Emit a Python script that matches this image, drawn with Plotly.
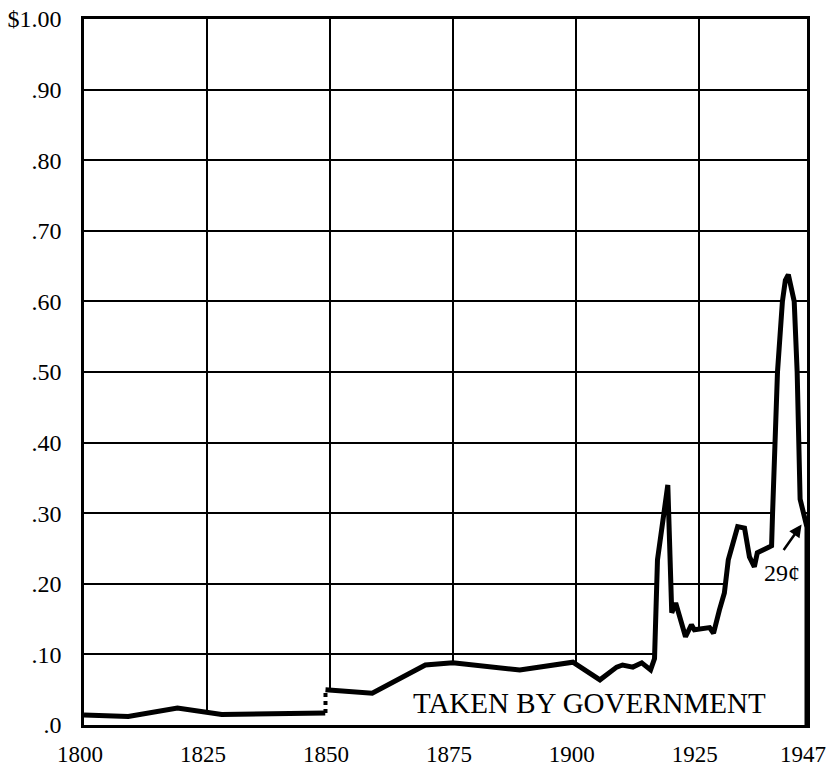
import plotly.graph_objects as go

# Share of the dollar taken by government
years_early = [1800, 1809, 1819, 1825, 1828, 1849.1]
share_early = [0.014, 0.012, 0.024, 0.018, 0.015, 0.017]

years_late = [1849.1, 1858.6, 1869.4, 1875, 1888.6, 1899.4, 1904.9, 1908.3, 1909.5,
              1911.6, 1913.4, 1915.2, 1916.0, 1916.6, 1918.7, 1919.5, 1920.3, 1922.3,
              1923.5, 1924.1, 1927.2, 1928.0, 1929.2, 1930.2, 1931.0, 1932.9, 1934.3,
              1935.3, 1936.3, 1936.9, 1939.3, 1939.8, 1940.0, 1940.6, 1941.0, 1942.0,
              1942.6, 1943.2, 1944.4, 1945.0, 1945.4, 1945.6, 1947.0, 1947.0]
share_late = [0.050, 0.045, 0.085, 0.088, 0.078, 0.089, 0.064, 0.082, 0.085,
              0.082, 0.088, 0.078, 0.094, 0.234, 0.340, 0.159, 0.173, 0.125,
              0.142, 0.135, 0.138, 0.130, 0.163, 0.187, 0.234, 0.281, 0.279,
              0.238, 0.224, 0.244, 0.252, 0.254, 0.300, 0.400, 0.500, 0.600,
              0.630, 0.638, 0.600, 0.500, 0.400, 0.320, 0.280, 0.0]

x_tick_vals = [1800, 1825, 1850, 1875, 1900, 1925, 1947]
x_tick_text = ["1800", "1825", "1850", "1875", "1900", "1925", "1947"]
y_tick_vals = [0, 0.1, 0.2, 0.3, 0.4, 0.5, 0.6, 0.7, 0.8, 0.9, 1.0]
y_tick_text = [".0", ".10", ".20", ".30", ".40", ".50", ".60", ".70", ".80", ".90", "$1.00"]

label_text = "TAKEN BY GOVERNMENT"
final_note = "29¢"

FONT = "Liberation Serif"

fig = go.Figure()
fig.add_trace(go.Scatter(x=years_early, y=share_early, mode="lines", fill="tozeroy",
                         fillcolor="white", line=dict(color="black", width=5),
                         hoverinfo="skip", showlegend=False))
fig.add_trace(go.Scatter(x=years_late, y=share_late, mode="lines", fill="tozeroy",
                         fillcolor="white", line=dict(color="black", width=5),
                         hoverinfo="skip", showlegend=False))
# dotted join between the two series segments
fig.add_trace(go.Scatter(x=[years_early[-1], years_late[0]], y=[share_early[-1], share_late[0]],
                         mode="lines", line=dict(color="black", width=4, dash="dot"),
                         hoverinfo="skip", showlegend=False))

fig.add_annotation(x=1902.8, y=0.031, xref="x", yref="y", text=label_text, showarrow=False,
                   font=dict(family=FONT, size=29, color="black"))
fig.add_annotation(x=1941.9, y=0.216, xref="x", yref="y", text=final_note, showarrow=False,
                   font=dict(family=FONT, size=24, color="black"))
fig.add_annotation(x=1945.9, y=0.284, xref="x", yref="y", text="", showarrow=True,
                   ax=-19, ay=27, arrowhead=2, arrowsize=1, arrowwidth=2.5, arrowcolor="black")

fig.update_layout(
    width=827, height=767,
    margin=dict(l=84, r=20, t=19, b=42, autoexpand=False),
    paper_bgcolor="white", plot_bgcolor="white",
    font=dict(family=FONT, size=24, color="black"),
    xaxis=dict(range=[1800, 1947], tickvals=x_tick_vals, ticktext=x_tick_text,
               showgrid=True, gridcolor="black", gridwidth=1.5, zeroline=False,
               showline=True, linecolor="black", linewidth=3, mirror=True,
               ticks="outside", ticklen=6, tickcolor="rgba(0,0,0,0)",
               ticklabeloverflow="allow", ticklabelshift=-4, automargin=False,
               tickfont=dict(family=FONT, size=23, color="black"), fixedrange=True),
    yaxis=dict(range=[0, 1.0], tickvals=y_tick_vals, ticktext=y_tick_text,
               showgrid=True, gridcolor="black", gridwidth=1.5, zeroline=False,
               showline=True, linecolor="black", linewidth=2.5, mirror=True,
               ticks="outside", ticklen=15, tickcolor="rgba(0,0,0,0)",
               ticklabeloverflow="allow", automargin=False,
               tickfont=dict(family=FONT, size=24, color="black"), fixedrange=True),
)

fig.write_html("out.html", config={"displayModeBar": False},
               post_script="document.body.style.margin='0';")
